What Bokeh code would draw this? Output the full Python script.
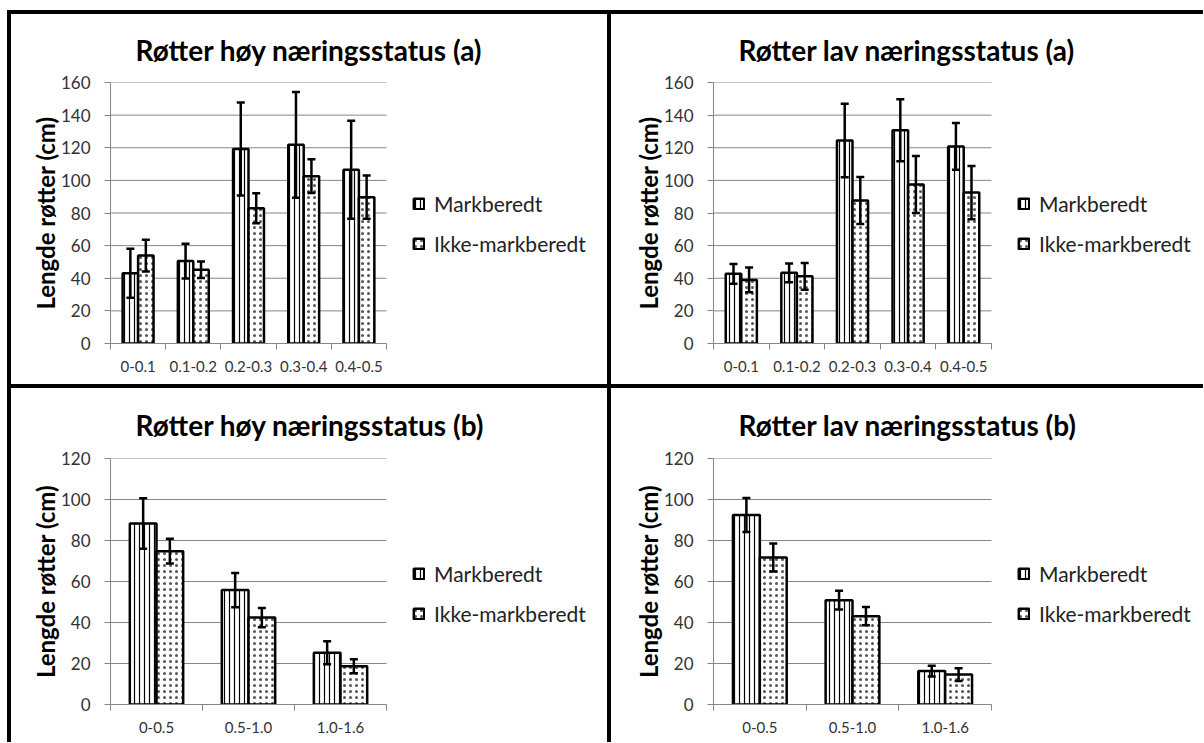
import numpy as np
from bokeh.plotting import figure
from bokeh.models import (Range1d, FixedTicker, Whisker, TeeHead, ColumnDataSource,
                          Legend, LegendItem, GridBox)
from bokeh.embed import file_html
from bokeh.resources import INLINE

# ---------------- data ----------------
top_cats = ["0-0.1", "0.1-0.2", "0.2-0.3", "0.3-0.4", "0.4-0.5"]
bot_cats = ["0-0.5", "0.5-1.0", "1.0-1.6"]
series_names = ["Markberedt", "Ikke-markberedt"]

hoy_a_mark = [43.1, 50.5, 119.3, 121.8, 106.5]
hoy_a_mark_err = [15.0, 10.6, 28.5, 32.4, 30.0]
hoy_a_ikke = [53.9, 45.2, 82.9, 102.6, 89.7]
hoy_a_ikke_err = [9.7, 5.1, 9.2, 10.4, 13.3]

lav_a_mark = [42.7, 43.3, 124.4, 130.8, 120.8]
lav_a_mark_err = [6.1, 5.7, 22.5, 19.0, 14.3]
lav_a_ikke = [39.0, 41.2, 87.6, 97.5, 92.5]
lav_a_ikke_err = [7.6, 8.2, 14.4, 17.5, 16.3]

hoy_b_mark = [88.3, 55.8, 25.2]
hoy_b_mark_err = [12.3, 8.4, 5.6]
hoy_b_ikke = [74.8, 42.4, 18.7]
hoy_b_ikke_err = [6.0, 4.7, 3.4]

lav_b_mark = [92.4, 50.9, 16.3]
lav_b_mark_err = [8.3, 4.6, 2.6]
lav_b_ikke = [71.7, 43.1, 14.6]
lav_b_ikke_err = [6.8, 4.5, 3.1]

titles = ["Røtter høy næringsstatus (a)", "Røtter lav næringsstatus (a)",
          "Røtter høy næringsstatus (b)", "Røtter lav næringsstatus (b)"]
y_label = "Lengde røtter (cm)"

# ---------------- styling ----------------
GRAY = "#868686"
FONT = "Lato"


def make_panel(title, cats, mark, mark_err, ikke, ikke_err, ymax,
               W, H, left, plot_w, top, frame_h, bar_w, leg_x, leg_y, title_standoff):
    n = len(cats)
    right = 8
    frame_w = W - left - right
    x_end = n * frame_w / plot_w          # frame also hosts the legend area
    p = figure(width=W, height=H, x_range=Range1d(0, x_end), y_range=Range1d(0, ymax),
               output_backend="svg", toolbar_location=None,
               min_border_left=left, min_border_right=right,
               min_border_top=top, min_border_bottom=H - top - frame_h,
               styles={"background-color": "white"})
    p.outline_line_color = None
    p.background_fill_color = "white"
    p.border_fill_color = "white"

    p.title.text = title
    p.title.align = "left"
    p.title.offset = 25
    p.title.standoff = title_standoff
    p.title.text_font = FONT
    p.title.text_font_style = "bold"
    p.title.text_font_size = "28px"
    p.title.text_color = "black"

    centers = np.arange(n) + 0.5
    bounds = list(np.arange(n + 1).astype(float))
    yticks = list(range(0, ymax + 1, 20))

    # horizontal gridlines limited to the category area
    p.segment(x0=[0] * len(yticks), x1=[n] * len(yticks), y0=yticks, y1=yticks,
              line_color=GRAY, line_width=1)

    # bars
    xm = centers - bar_w / 2
    xi = centers + bar_w / 2
    r1 = p.vbar(x=xm, top=mark, width=bar_w, fill_color="white", line_color="black",
                line_width=2.5, hatch_pattern="|", hatch_color="black",
                hatch_scale=5, hatch_weight=1.2)
    r2 = p.vbar(x=xi, top=ikke, width=bar_w, fill_color="white", line_color="black",
                line_width=2.5, hatch_pattern=".", hatch_color="#555555",
                hatch_scale=6, hatch_weight=0.4)

    # error bars
    for xs, vals, errs in ((xm, mark, mark_err), (xi, ikke, ikke_err)):
        v = np.array(vals)
        e = np.array(errs)
        src = ColumnDataSource(dict(x=xs, upper=v + e, lower=v - e))
        w = Whisker(source=src, base="x", upper="upper", lower="lower",
                    line_color="black", line_width=2.5, level="annotation",
                    upper_head=TeeHead(size=8, line_width=2.5, line_color="black"),
                    lower_head=TeeHead(size=8, line_width=2.5, line_color="black"))
        p.add_layout(w)

    # axes
    p.yaxis.ticker = FixedTicker(ticks=yticks)
    p.ygrid.visible = False
    p.xgrid.visible = False

    p.yaxis.axis_line_color = GRAY
    p.yaxis.major_tick_line_color = GRAY
    p.yaxis.major_tick_out = 6
    p.yaxis.major_tick_in = 0
    p.yaxis.minor_tick_line_color = None
    p.yaxis.major_label_text_font = FONT
    p.yaxis.major_label_text_font_size = "17px"
    p.yaxis.major_label_text_color = "#333333"
    p.yaxis.major_label_standoff = 14
    p.yaxis.axis_label = y_label
    p.yaxis.axis_label_text_font = FONT
    p.yaxis.axis_label_text_font_style = "bold"
    p.yaxis.axis_label_text_font_size = "24px"
    p.yaxis.axis_label_text_color = "black"
    p.yaxis.axis_label_standoff = -2

    p.xaxis.ticker = FixedTicker(ticks=list(centers), minor_ticks=bounds)
    p.xaxis.bounds = (0, n)
    p.xaxis.major_label_overrides = {float(c): cat for c, cat in zip(centers, cats)}
    p.xaxis.axis_line_color = GRAY
    p.xaxis.major_tick_line_color = None
    p.xaxis.major_tick_out = 0
    p.xaxis.major_tick_in = 0
    p.xaxis.minor_tick_line_color = GRAY
    p.xaxis.minor_tick_out = 6
    p.xaxis.minor_tick_in = 0
    p.xaxis.major_label_text_font = FONT
    p.xaxis.major_label_text_font_size = "15px"
    p.xaxis.major_label_text_color = "#333333"
    p.xaxis.major_label_standoff = 11

    lg = Legend(items=[LegendItem(label=series_names[0], renderers=[r1]),
                       LegendItem(label=series_names[1], renderers=[r2])],
                location=(leg_x, leg_y))
    lg.padding = 0
    lg.margin = 0
    lg.spacing = 15
    lg.border_line_color = None
    lg.background_fill_alpha = 0
    lg.glyph_width = 13
    lg.glyph_height = 13
    lg.label_standoff = 9
    lg.label_text_font = FONT
    lg.label_text_font_size = "21px"
    lg.label_text_color = "#222222"
    p.add_layout(lg)
    return p


# left column: width 596 ; right column: width 592
p1 = make_panel(titles[0], top_cats, hoy_a_mark, hoy_a_mark_err, hoy_a_ikke, hoy_a_ikke_err,
                160, 596, 370, 99, 276, 68, 261, 0.28, 302, 87, 31)
p2 = make_panel(titles[1], top_cats, lav_a_mark, lav_a_mark_err, lav_a_ikke, lav_a_ikke_err,
                160, 592, 370, 102, 278, 68, 261, 0.28, 304, 87, 31)
p3 = make_panel(titles[2], bot_cats, hoy_b_mark, hoy_b_mark_err, hoy_b_ikke, hoy_b_ikke_err,
                120, 596, 354, 99, 276, 70, 246, 0.29, 302, 78, 33)
p4 = make_panel(titles[3], bot_cats, lav_b_mark, lav_b_mark_err, lav_b_ikke, lav_b_ikke_err,
                120, 592, 354, 102, 278, 70, 246, 0.29, 304, 78, 33)

grid = GridBox(children=[(p1, 0, 0), (p2, 0, 1), (p3, 1, 0), (p4, 1, 1)], spacing=4,
               styles={"background-color": "black", "margin": "10px 0px 0px 7px",
                       "padding": "4px 0px 0px 4px"})

open("out.html", "w").write(file_html(grid, INLINE))
